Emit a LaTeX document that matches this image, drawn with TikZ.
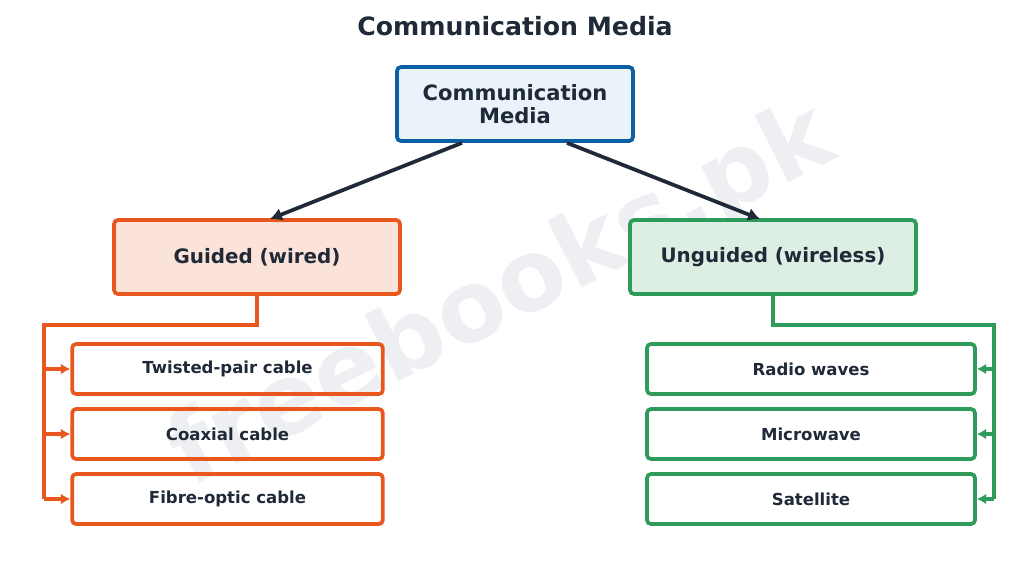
\documentclass[tikz,border=0pt]{standalone}
\usepackage{fontspec}
\setmainfont{DejaVu Sans}
\usepackage{tikz}
\usetikzlibrary{arrows.meta}

\definecolor{ink}{HTML}{1F2937}
\definecolor{rootline}{HTML}{0B5FA5}
\definecolor{rootfill}{HTML}{EAF2FA}
\definecolor{wired}{HTML}{E8571E}
\definecolor{wiredfill}{HTML}{FCE3D9}
\definecolor{wless}{HTML}{2E9B5A}
\definecolor{wlessfill}{HTML}{DDEFE3}
\definecolor{mark}{HTML}{EDEFF2}

\begin{document}
\begin{tikzpicture}[
      x=0.75pt, y=-0.75pt,
      font=\bfseries, text=ink,
      box/.style={draw, rounded corners=3pt, align=center, line width=2.8pt,
                  inner sep=0pt},
      leaf/.style={box, minimum height=37.5pt,
                   font=\fontsize{12.4}{14}\selectfont\bfseries},
      flow/.style={-{Latex[length=9pt,width=10pt]}, line width=2.8pt, draw=ink},
      branch/.style={line width=2.6pt},
      feed/.style={-{Latex[length=7pt,width=8pt]}, line width=2.8pt}
    ]
    \useasboundingbox (0,0) rectangle (1029,569);

    % watermark
    \node[rotate=27, text=mark, font=\fontsize{74}{76}\selectfont\bfseries]
      (wm) at (503,298) {freebooks.pk};

    % --- Title and root ------------------------------------------------------
    \node[font=\fontsize{18.9}{21}\selectfont\bfseries] (title) at (515,26)
      {Communication Media};
    \node[box, draw=rootline, fill=rootfill, minimum width=177pt,
          minimum height=55.5pt, font=\fontsize{15.8}{17}\selectfont\bfseries]
      (root) at (515,104) {Communication\\Media};

    % --- Two kinds --------------------------------------------------------------
    \node[box, draw=wired, fill=wiredfill, minimum width=214.5pt,
          minimum height=55.5pt, font=\fontsize{14.9}{16}\selectfont\bfseries]
      (guided) at (257,257) {Guided (wired)};
    \node[box, draw=wless, fill=wlessfill, minimum width=214.5pt,
          minimum height=55.5pt, font=\fontsize{14.9}{16}\selectfont\bfseries]
      (unguided) at (773,257) {Unguided (wireless)};

    \draw[flow] (root.south -| 462,0) -- (270,219);
    \draw[flow] (root.south -| 567,0) -- (760,219);

    % --- Guided media ----------------------------------------------------------
    \node[leaf, draw=wired, minimum width=233pt] (tp) at (227.5,369)
      {Twisted-pair cable};
    \node[leaf, draw=wired, minimum width=233pt] (cx) at (227.5,434)
      {Coaxial cable};
    \node[leaf, draw=wired, minimum width=233pt] (fo) at (227.5,499)
      {Fibre-optic cable};

    \coordinate (gl) at (44,325);
    \draw[branch, wired] (guided.south) -- (guided.south |- gl) -- (gl)
      -- (gl |- fo.west);
    \foreach \n in {tp,cx,fo}
      \draw[feed, wired] (gl |- \n.west) -- (\n.west);

    % --- Unguided media --------------------------------------------------------
    \node[leaf, draw=wless, minimum width=246pt] (rw) at (811,369)
      {Radio waves};
    \node[leaf, draw=wless, minimum width=246pt] (mw) at (811,434)
      {Microwave};
    \node[leaf, draw=wless, minimum width=246pt] (sat) at (811,499)
      {Satellite};

    \coordinate (ur) at (994,325);
    \draw[branch, wless] (unguided.south) -- (unguided.south |- ur) -- (ur)
      -- (ur |- sat.east);
    \foreach \n in {rw,mw,sat}
      \draw[feed, wless] (ur |- \n.east) -- (\n.east);
  \end{tikzpicture}
\end{document}
